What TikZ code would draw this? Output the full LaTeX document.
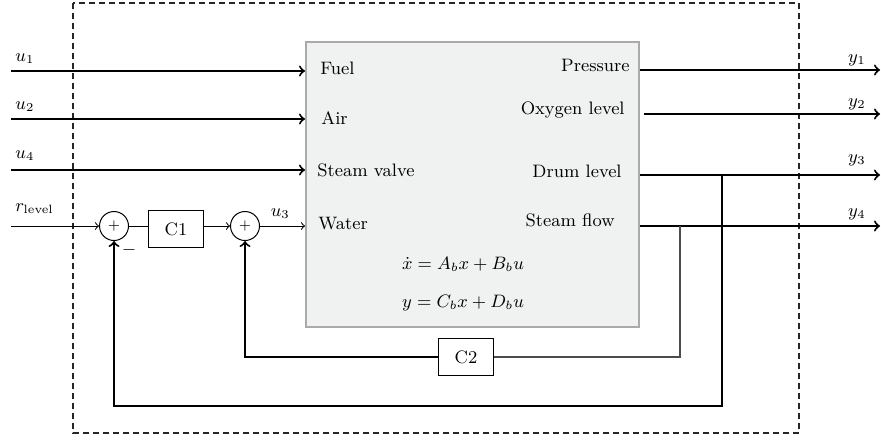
\documentclass[tikz,border=0pt]{standalone}
\usetikzlibrary{positioning}

\definecolor{plantfill}{RGB}{240,241,241}
\definecolor{plantdraw}{RGB}{170,170,170}

\tikzset{
  sig/.style={line width=1pt},
  thinsig/.style={line width=0.5pt},
  plant/.style={draw=plantdraw, fill=plantfill, line width=1pt, inner sep=0pt},
  sumnode/.style={draw, circle, thinsig, minimum size=14.5pt, inner sep=0pt, font=\scriptsize},
  ctrl/.style={draw, thinsig, minimum width=27.5pt, minimum height=18.5pt, inner sep=0pt},
  lbl/.style={inner sep=1pt},
}

\begin{document}
\begin{tikzpicture}[x=0.5pt, y=-0.5pt, >=to, font=\small]

\useasboundingbox (0,0) rectangle (881,439);

%\draw (0,0) grid[step=50] (881,439);

% surrounding boundary
\draw[dashed, dash pattern=on 3pt off 2pt, color=black!85, line width=0.6pt] (73,3) rectangle (799,433);

% plant
\node[plant, minimum width=166.5pt, minimum height=142.5pt] (plant) at (472.5,184.5) {};

\node[lbl, anchor=west] (fuel)  at (318,68)  {Fuel};
\node[lbl, anchor=west] (air)   at (319,118) {Air};
\node[lbl, anchor=west] (valve) at (315,170) {Steam valve};
\node[lbl, anchor=west] (water) at (316,224) {Water};

\node[lbl, anchor=east] (press) at (632,65)  {Pressure};
\node[lbl, anchor=east] (oxy)   at (627,110) {Oxygen level};
\node[lbl, anchor=east] (drum)  at (624,171) {Drum level};
\node[lbl, anchor=east] (flow)  at (617,220) {Steam flow};

\node[inner sep=0pt] (eq1) at (463,264) {$\dot{x} = A_b x + B_b u$};
\node[inner sep=0pt] (eq2) at (463,303) {$y = C_b x + D_b u$};

% loop elements
\node[sumnode] (s1) at (114,226) {$+$};
\node[ctrl]    (c1) at (176,229) {C1};
\node[sumnode] (s2) at (245,226) {$+$};
\node[ctrl]    (c2) at (466,357) {C2};
\node (minus) at (129,250) {$-$};

% inputs
\coordinate (u1) at (11,71);
\coordinate (u2) at (11,119);
\coordinate (u4) at (11,170);
\coordinate (r)  at (11,226);

\draw[sig, ->] (u1) -- (u1 -| plant.west);
\draw[sig, ->] (u2) -- (u2 -| plant.west);
\draw[sig, ->] (u4) -- (u4 -| plant.west);
\draw[thinsig, ->] (r) -- (s1);
\draw[thinsig] (s1) -- (c1.west |- s1);
\draw[thinsig, ->] (c1.east |- s2) -- (s2);
\draw[thinsig, ->] (s2) -- (s2 -| plant.west) node[pos=0.45, above] {$u_3$};

\node[anchor=south west, inner sep=1pt] (lu1) at (13,66)  {$u_1$};
\node[anchor=south west, inner sep=1pt] (lu2) at (13,114) {$u_2$};
\node[anchor=south west, inner sep=1pt] (lu4) at (13,163) {$u_4$};
\node[anchor=south west, inner sep=1pt] (lr)  at (13,216) {$r_{\mathrm{level}}$};

% outputs
\coordinate (y1) at (880,70);
\coordinate (y2) at (880,114);
\coordinate (y3) at (880,175);
\coordinate (y4) at (880,226);
\coordinate (b3) at (722,175);
\coordinate (b4) at (680,226);

\draw[sig, ->] (y1 -| plant.east) -- (y1);
\draw[sig, ->] (644,114) coordinate (o2) -- (y2);
\draw[sig, ->] (y3 -| plant.east) -- (y3);
\draw[sig, ->] (y4 -| plant.east) -- (y4);

\node[anchor=south east, inner sep=1pt] (ly1) at (868,68)  {$y_1$};
\node[anchor=south east, inner sep=1pt] (ly2) at (868,112) {$y_2$};
\node[anchor=south east, inner sep=1pt] (ly3) at (868,168) {$y_3$};
\node[anchor=south east, inner sep=1pt] (ly4) at (868,222) {$y_4$};

% feedback
\draw[sig, ->] (b3) |- (s1 |- 0,406) -- (s1.south);
\draw[sig, color=black!70] (b4) |- (c2.east);
\draw[sig, ->] (c2.west) -| (s2.south);

\end{tikzpicture}
\end{document}
